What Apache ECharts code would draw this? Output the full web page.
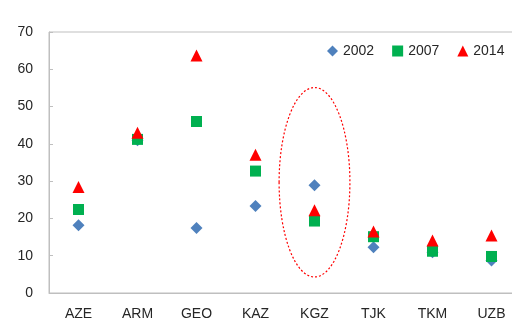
<!DOCTYPE html>
<html>
<head>
<meta charset="utf-8">
<script src="https://cdn.jsdelivr.net/npm/echarts@6/dist/echarts.min.js"></script>
<style>
  html, body { margin: 0; padding: 0; background: #fff; }
  #chart { width: 512px; height: 332px; }
</style>
</head>
<body>
<div id="chart"></div>
<script>
// Country codes along the category axis
const countries = ['AZE', 'ARM', 'GEO', 'KAZ', 'KGZ', 'TJK', 'TKM', 'UZB'];
// Values per survey year
const values2002 = [18.2, 41.0, 17.4, 23.3, 28.9, 12.3, 10.9, 8.7];
const values2007 = [22.4, 41.2, 46.0, 32.7, 19.3, 15.1, 11.2, 9.8];
const values2014 = [28.4, 43.0, 63.7, 37.1, 22.2, 16.5, 14.1, 15.4];
const yearNames = ['2002', '2007', '2014'];
// Highlight around one country: [category, centre value, half-height in value units, half-width in bands]
const highlight = [['KGZ', 29.7, 25.4, 0.6]];

const fontFamily = '"Liberation Sans", Arial, sans-serif';
const axisGrey = '#BFBFBF';
const textColor = '#262626';

const chart = echarts.init(document.getElementById('chart'), null, { renderer: 'canvas' });

function scatter(name, data, symbol, color, size) {
  return {
    name: name,
    type: 'scatter',
    data: data,
    symbol: symbol,
    symbolSize: size,
    itemStyle: { color: color, opacity: 1 },
    z: 3
  };
}

chart.setOption({
  animation: false,
  backgroundColor: '#ffffff',
  grid: {
    left: 49, top: 32, width: 472, height: 261,
    outerBoundsMode: 'none',
    containLabel: false,
    show: true, borderColor: axisGrey, borderWidth: 1
  },
  legend: {
    data: [
      { name: yearNames[0], icon: 'diamond' },
      { name: yearNames[1], icon: 'rect' },
      { name: yearNames[2], icon: 'triangle' }
    ],
    orient: 'horizontal',
    left: 327, top: 44, width: 260,
    padding: 0,
    itemWidth: 11, itemHeight: 11, itemGap: 18,
    textStyle: { fontFamily: fontFamily, fontSize: 14, color: textColor }
  },
  xAxis: {
    type: 'category',
    data: countries,
    boundaryGap: true,
    axisLine: { lineStyle: { color: axisGrey, width: 1 } },
    axisTick: { inside: true, length: 5, lineStyle: { color: axisGrey } },
    axisLabel: { margin: 14, fontFamily: fontFamily, fontSize: 14, color: textColor },
    splitLine: { show: false }
  },
  yAxis: {
    type: 'value',
    min: 0, max: 70, interval: 10,
    axisLine: { show: true, lineStyle: { color: axisGrey, width: 1 } },
    axisTick: { show: true, inside: true, length: 4, lineStyle: { color: axisGrey } },
    axisLabel: { margin: 16, fontFamily: fontFamily, fontSize: 14, color: textColor },
    splitLine: { show: false }
  },
  series: [
    {
      name: 'highlight',
      type: 'custom',
      data: highlight,
      encode: { x: 0, y: 1 },
      silent: true,
      z: 1,
      renderItem: function (params, api) {
        const cat = api.value(0);
        const centre = api.coord([cat, api.value(1)]);
        const top = api.coord([cat, api.value(1) + api.value(2)]);
        const band = api.size([1, 0])[0];
        return {
          type: 'ellipse',
          shape: { cx: centre[0], cy: centre[1], rx: band * api.value(3), ry: centre[1] - top[1] },
          style: { fill: null, stroke: '#FF0000', lineWidth: 1.2, lineDash: [2, 2] }
        };
      }
    },
    scatter(yearNames[0], values2002, 'diamond', '#4F81BD', 12),
    scatter(yearNames[1], values2007, 'rect', '#00B050', 11),
    scatter(yearNames[2], values2014, 'triangle', '#FF0000', 12)
  ]
});
</script>
</body>
</html>
